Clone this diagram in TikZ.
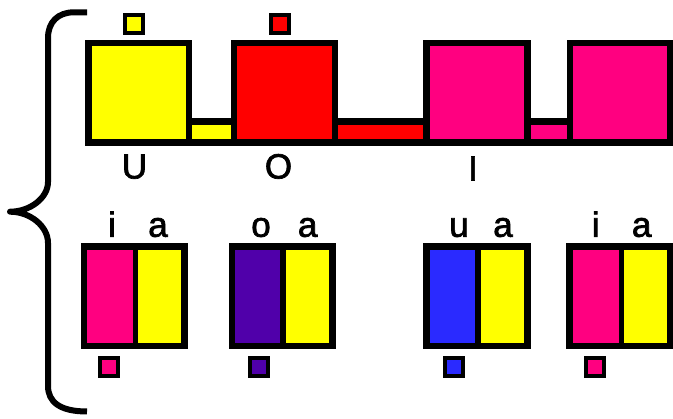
\documentclass[tikz,border=0pt]{standalone}
\usepackage{fontspec}
\setmainfont{Liberation Sans}
\newfontfamily\lblfont{Liberation Sans}[FakeBold=2]
\definecolor{cY}{HTML}{FFFF00}
\definecolor{cR}{HTML}{FF0000}
\definecolor{cP}{HTML}{FF0080}
\definecolor{cV}{HTML}{5000AA}
\definecolor{cB}{HTML}{2A2AFF}
\tikzset{
  bigbox/.style={draw=black, line width=6.5pt},
  barbox/.style={draw=black, line width=6.5pt},
  tinybox/.style={draw=black, line width=4.3pt},
  lbl/.style={anchor=base, inner sep=0pt, font=\lblfont\fontsize{35}{40}\selectfont},
  bracestyle/.style={draw=black, line width=6pt, line cap=butt, line join=round}
}
\begin{document}
\begin{tikzpicture}[x=1pt,y=-1pt]
\useasboundingbox (0,0) rectangle (673,419);
% brace
\draw[bracestyle] (87,12.3) -- (74,12.3) .. controls (58,12.3) and (48,22) .. (48,38)
  -- (48,182) .. controls (48,198) and (30,211.7) .. (10,211.7)
  .. controls (30,211.7) and (48,226) .. (48,243)
  -- (48,386) .. controls (48,402) and (60,411.5) .. (87,411.5);
% top row bars
\filldraw[barbox, fill=cY] (189,121.7) rectangle (234,142.5);
\filldraw[barbox, fill=cR] (335,121.7) rectangle (426.7,142.5);
\filldraw[barbox, fill=cP] (527.3,121.7) rectangle (570,142.5);
% top row boxes
\filldraw[bigbox, fill=cY] (88.5,43.2) rectangle (189,142.5);
\filldraw[bigbox, fill=cR] (234,43.2) rectangle (335,142.5);
\filldraw[bigbox, fill=cP] (426.7,43.2) rectangle (527.3,142.5);
\filldraw[bigbox, fill=cP] (570,43.2) rectangle (669.8,142.5);
% top small squares
\filldraw[tinybox, fill=cY] (125.3,15) rectangle (143.3,33);
\filldraw[tinybox, fill=cR] (271,15) rectangle (289,33);
% top labels
\node[lbl] (lU) at (134.5,178.5) {U};
\node[lbl] (lO) at (278.5,178.5) {O};
\node[lbl] (lI) at (473,180.5) {I};
% lower boxes
\fill[cP] (84,246.5) rectangle (135.5,346);
\fill[cY] (135.5,246.5) rectangle (184.5,346);
\draw[bigbox] (84,246.5) rectangle (184.5,346);
\draw[black, line width=5.6pt] (135.5,246.5) -- (135.5,346);
\fill[cV] (232,246.5) rectangle (283,346);
\fill[cY] (283,246.5) rectangle (332.5,346);
\draw[bigbox] (232,246.5) rectangle (332.5,346);
\draw[black, line width=5.6pt] (283,246.5) -- (283,346);
\fill[cB] (426.5,246.5) rectangle (478,346);
\fill[cY] (478,246.5) rectangle (527.5,346);
\draw[bigbox] (426.5,246.5) rectangle (527.5,346);
\draw[black, line width=5.6pt] (478,246.5) -- (478,346);
\fill[cP] (569.7,246.5) rectangle (621.3,346);
\fill[cY] (621.3,246.5) rectangle (670,346);
\draw[bigbox] (569.7,246.5) rectangle (670,346);
\draw[black, line width=5.6pt] (621.3,246.5) -- (621.3,346);
% lower small squares
\filldraw[tinybox, fill=cP] (100.3,357.8) rectangle (118.3,375.8);
\filldraw[tinybox, fill=cV] (250.3,357.8) rectangle (268.3,375.8);
\filldraw[tinybox, fill=cB] (445.3,357.8) rectangle (463.3,375.8);
\filldraw[tinybox, fill=cP] (586.3,357.8) rectangle (604.3,375.8);
% lower labels
\node[lbl] (l1i) at (112,236.8) {i};
\node[lbl] (l1a) at (158,236.8) {a};
\node[lbl] (l2o) at (261,236.8) {o};
\node[lbl] (l2a) at (307.7,236.8) {a};
\node[lbl] (l3u) at (459,236.8) {u};
\node[lbl] (l3a) at (503,236.8) {a};
\node[lbl] (l4i) at (595.7,236.8) {i};
\node[lbl] (l4a) at (641.7,236.8) {a};
\end{tikzpicture}
\end{document}
